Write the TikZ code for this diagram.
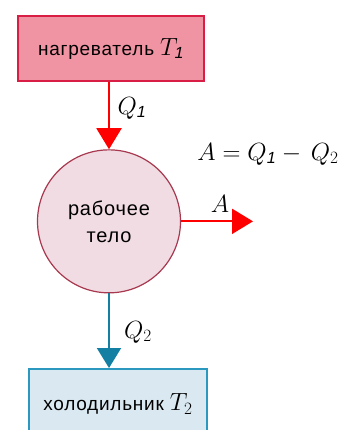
\documentclass[tikz,border=0pt]{standalone}
\usepackage{fontspec}
\setmainfont{Liberation Sans}[LetterSpace=4]
\usetikzlibrary{shapes.geometric, arrows.meta, positioning}

\definecolor{hotfill}{HTML}{F094A3}
\definecolor{hotline}{HTML}{D81E45}
\definecolor{bodyfill}{HTML}{F0DCE2}
\definecolor{bodyline}{HTML}{A8384F}
\definecolor{coldfill}{HTML}{DAE9F1}
\definecolor{coldline}{HTML}{2B98BF}
\definecolor{coldarrow}{HTML}{137FA2}

\newcommand{\bigsym}[1]{{\fontsize{23}{24}\selectfont$#1$}}

\begin{document}
\begin{tikzpicture}[x=1pt, y=-1pt,
    hot/.style={rectangle, draw=hotline, fill=hotfill, line width=2.5pt, minimum width=186pt, minimum height=65pt, font=\fontsize{19}{24}\selectfont},
    work/.style={circle, draw=bodyline, fill=bodyfill, line width=1.2pt, minimum size=143pt, align=center, font=\fontsize{20}{27}\selectfont},
    cold/.style={rectangle, draw=coldline, fill=coldfill, line width=1.5pt, minimum width=178pt, minimum height=70pt, anchor=north, font=\fontsize{19}{24}\selectfont},
    hotarrow/.style={draw=red, line width=2pt, -{Triangle[length=21pt, width=25pt]}},
    coldarrow/.style={draw=coldarrow, line width=2pt, -{Triangle[length=20pt, width=24pt]}},
    lbl/.style={font=\fontsize{23}{27}\selectfont}
]
    \useasboundingbox (0,0) rectangle (339,430);

    \node[hot] (heater) at (111,48.5) {нагреватель \bigsym{T_{\mathit{1}}}};
    \node[work, below=67pt of heater.south, anchor=north, xshift=-2pt] (body) {рабочее\\тело};
    \node[cold] (cooler) at (118,368) {холодильник \bigsym{T_{2}}};
    \coordinate (out) at (253,221);

    \draw[hotarrow] (heater.south -| body) -- (body.north);
    \draw[hotarrow] (body.east) -- (body.east -| out);
    \draw[coldarrow] (body.south) -- (body.south |- cooler.north);

    \node[lbl] (q1) at (132,108) {$Q_{\mathit{1}}$};
    \node[lbl] (a) at (220,204) {$A$};
    \node[lbl] (q2) at (138,332) {$Q_{2}$};
    \node[lbl] (balance) at (268,154) {$A = Q_{\mathit{1}} -\, Q_{2}$};
\end{tikzpicture}
\end{document}
